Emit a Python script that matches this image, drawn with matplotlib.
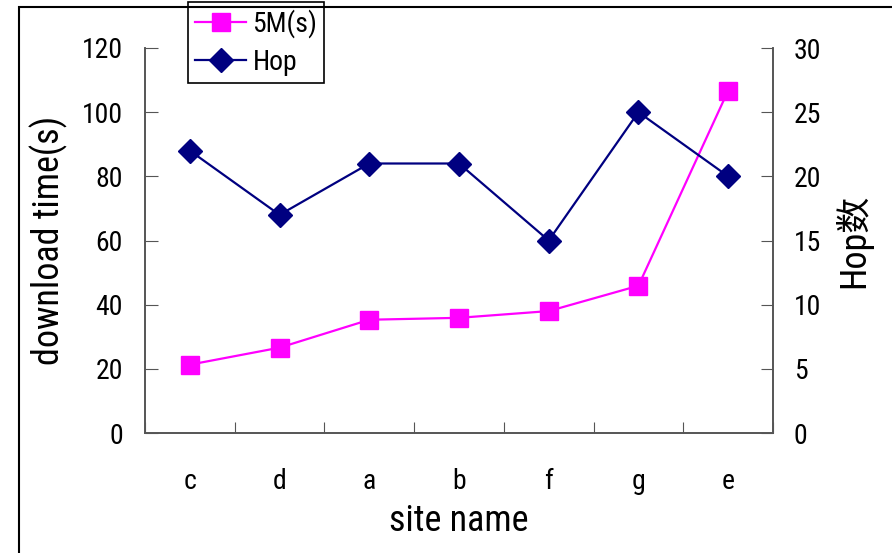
import matplotlib
matplotlib.use("Agg")
import matplotlib.pyplot as plt
from matplotlib import font_manager
from matplotlib.patches import Rectangle
from matplotlib.lines import Line2D

# Data
sites = ["c", "d", "a", "b", "f", "g", "e"]
download_5m = [21.3, 26.6, 35.3, 35.9, 38.0, 45.9, 106.7]
hops = [22, 17, 21, 21, 15, 25, 20]
left_ticks = [0, 20, 40, 60, 80, 100, 120]
right_ticks = [0, 5, 10, 15, 20, 25, 30]

# Condensed sans-serif, first one installed
installed = {f.name for f in font_manager.fontManager.ttflist}
base = next(n for n in ["Roboto Condensed", "Liberation Sans Narrow", "Archivo Narrow",
                        "Liberation Sans"] if n in installed)
fam = [base, "Noto Sans CJK SC", "DejaVu Sans"]
plt.rcParams["font.family"] = fam

fig = plt.figure(figsize=(8.92, 5.53), dpi=100)
ax = fig.add_axes([145 / 892, 1 - 433 / 553, (773 - 145) / 892, (433 - 48) / 553])
ax2 = ax.twinx()

x = list(range(len(sites)))
pink, navy = "#FF00FF", "#000080"

ax.plot(x, download_5m, color=pink, lw=1.6, marker="s", ms=12.5, mec=pink, mfc=pink, zorder=3)
ax2.plot(x, hops, color=navy, lw=1.6, marker="D", ms=12.5, mec=navy, mfc=navy, zorder=3)

ax.set_xlim(-0.5, len(sites) - 0.5)
ax.set_ylim(0, 120)
ax2.set_ylim(0, 30)
ax.set_yticks(left_ticks)
ax2.set_yticks(right_ticks)

# category boundaries carry the tick marks, names sit between them
ax.set_xticks([i + 0.5 for i in range(-1, len(sites))])
ax.set_xticklabels([])
ax.set_xticks(x, minor=True)
ax.set_xticklabels(sites, minor=True)
ax.tick_params(axis="x", which="minor", length=0, pad=25, labelsize=20)
ax.tick_params(axis="x", which="major", direction="in", length=8, color="#555555")
ax.tick_params(axis="y", direction="in", length=9, color="#555555", labelsize=20, pad=16)
ax2.tick_params(axis="y", direction="in", length=9, color="#555555", labelsize=20, pad=15)

for a in (ax, ax2):
    a.spines["top"].set_visible(False)
    for s in ("left", "right", "bottom"):
        a.spines[s].set_color("#555555")
        a.spines[s].set_linewidth(1.2)

ax.set_ylabel("download time(s)", fontsize=26)
ax.yaxis.set_label_coords((68 - 145) / 628, 0.5)
ax.set_xlabel("site name", fontsize=26)
ax.xaxis.set_label_coords(0.5, (433 - 503) / 385)
ax2.set_ylabel("Hop数", fontsize=26, family=fam)
ax2.yaxis.set_label_coords((834 - 145) / 628, 0.5)

# Outer chart frame
fig.patches.append(Rectangle((19 / 892, -0.1), 2, 1 - 7 / 553 + 0.1, transform=fig.transFigure,
                             fill=False, edgecolor="black", lw=1.5, zorder=10))

handles = [
    Line2D([], [], color=pink, lw=1.6, marker="s", ms=12.5, mfc=pink, mec=pink),
    Line2D([], [], color=navy, lw=1.6, marker="D", ms=12.5, mfc=navy, mec=navy),
]
leg = fig.legend(handles, ["5M(s)", "Hop"], loc="lower left",
                 bbox_to_anchor=(188 / 892, 1 - 83 / 553), fontsize=20,
                 frameon=True, fancybox=False, framealpha=1, edgecolor="black",
                 borderpad=0.25, handlelength=1.85, handletextpad=0.22, labelspacing=0.4,
                 borderaxespad=0)
leg.get_frame().set_linewidth(1.2)

fig.savefig("out.png", dpi=100)
